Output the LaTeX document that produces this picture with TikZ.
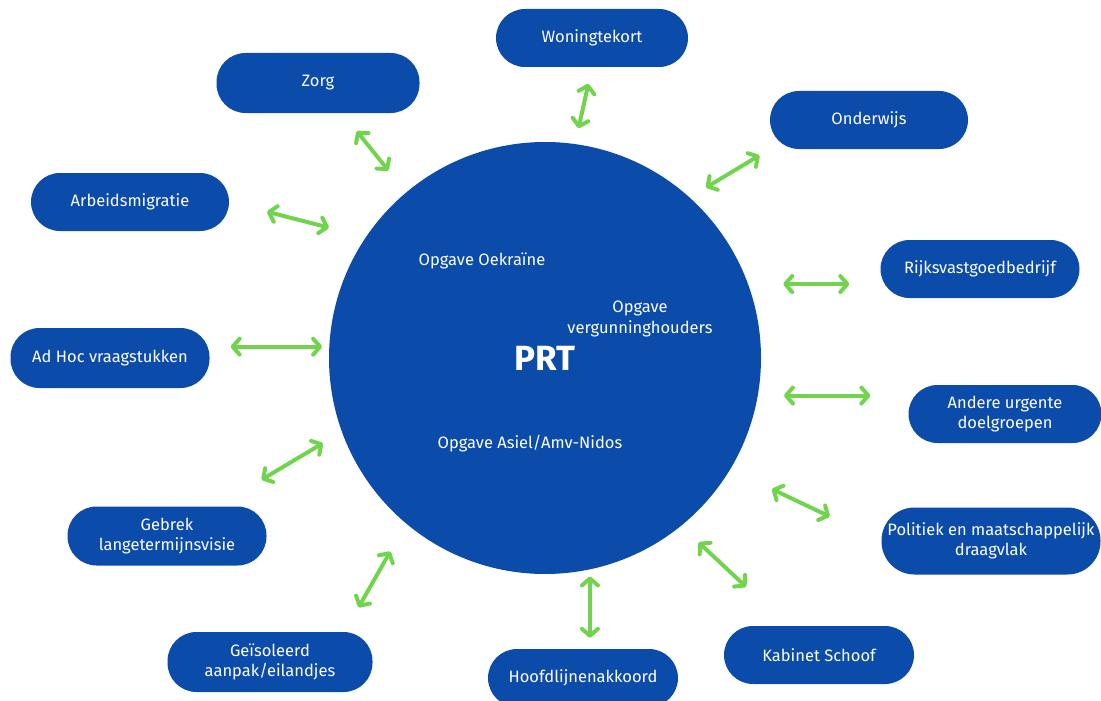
\documentclass[tikz,border=0pt]{standalone}
\usepackage{fontspec}
\setmainfont{Fira Sans}
\usetikzlibrary{arrows.meta,positioning,shapes.geometric}

\definecolor{prtblue}{HTML}{0B4BAA}
\definecolor{linkgreen}{HTML}{72D44E}

\tikzset{
    topic/.style={fill=prtblue, text=white, rounded corners=29pt, minimum height=58pt,
        align=center, inner sep=2pt, font=\fontsize{16.5}{20.5}\selectfont},
    link/.style={draw=linkgreen, line width=4pt, line cap=round,
        {Straight Barb[length=7pt,width=16pt,round]}-{Straight Barb[length=7pt,width=16pt,round]}},
    inner/.style={text=white, align=center, font=\fontsize{16.5}{20.5}\selectfont}
}

\begin{document}
\begin{tikzpicture}[x=1pt, y=-1pt]
    \useasboundingbox (0,0) rectangle (1101,701);

    % centre
    \node[circle, fill=prtblue, minimum size=432pt, text=white,
        font=\fontsize{35}{40}\bfseries] (prt) at (545,358) {PRT};
    \node[inner] (oekraine) at (482,261) {Opgave Oekraïne};
    \node[inner] (vergunning) at (640,319) {Opgave\\vergunninghouders};
    \node[inner] (asiel) at (530,444) {Opgave Asiel/Amv-Nidos};

    % topics round the circle
    \node[topic, minimum width=192pt] (woning) at (592,38) {Woningtekort};
    \node[topic, minimum width=203pt, minimum height=60pt] (zorg) at (318,83) {Zorg};
    \node[topic, minimum width=198pt] (onderwijs) at (869,120) {Onderwijs};
    \node[topic, minimum width=198pt] (arbeid) at (130,202) {Arbeidsmigratie};
    \node[topic, minimum width=199pt] (rijks) at (980,269) {Rijksvastgoedbedrijf};
    \node[topic, minimum width=199pt, minimum height=60pt] (adhoc) at (110,358) {Ad Hoc vraagstukken};
    \node[topic, minimum width=193pt] (andere) at (1005,414) {Andere urgente\\doelgroepen};
    \node[topic, minimum width=219pt, minimum height=67pt, rounded corners=33pt] (politiek) at (991,541) {Politiek en maatschappelijk\\draagvlak};
    \node[topic, minimum width=199pt, minimum height=59pt] (gebrek) at (167,536) {Gebrek\\langetermijnsvisie};
    \node[topic, minimum width=190pt] (kabinet) at (819,655) {Kabinet Schoof};
    \node[topic, minimum width=205pt, minimum height=60pt] (geisoleerd) at (270,662) {Geïsoleerd\\aanpak/eilandjes};
    \node[topic, minimum width=190pt] (hoofdlijnen) at (583,678) {Hoofdlijnenakkoord};

    % links
    \draw[link, shorten <=16pt, shorten >=17pt] (prt.82) -- (woning.south);
    \draw[link, shorten <=28pt, shorten >=23pt] (prt.130) -- (zorg);
    \draw[link, shorten <=19pt, shorten >=12pt] (prt.48.7) -- (onderwijs.south west);
    \draw[link, shorten <=38pt, shorten >=39pt] (prt.146.2) -- (arbeid.east);
    \draw[link, shorten <=35pt, shorten >=31pt] (prt.20) -- (prt.20 -| rijks.west);
    \draw[link, shorten <=7pt, shorten >=21pt] (prt.177.3) -- (prt.177.3 -| adhoc.east);
    \draw[link, shorten <=26pt, shorten >=38pt] (prt.-10.7) -- (prt.-10.7 -| andere.west);
    \draw[link, shorten <=46pt, shorten >=57pt] (prt.-31.4) -- (politiek.west);
    \draw[link, shorten <=22pt, shorten >=52pt] (prt.200.3) -- (gebrek);
    \draw[link, shorten <=24pt, shorten >=57pt] (prt.-51.6) -- (kabinet);
    \draw[link, shorten <=32pt, shorten >=28pt] (prt.-130.9) -- (geisoleerd.22);
    \draw[link, shorten <=7pt, shorten >=11pt] (prt.-78.2) -- (prt.-78.2 |- hoofdlijnen.north);
\end{tikzpicture}
\end{document}
